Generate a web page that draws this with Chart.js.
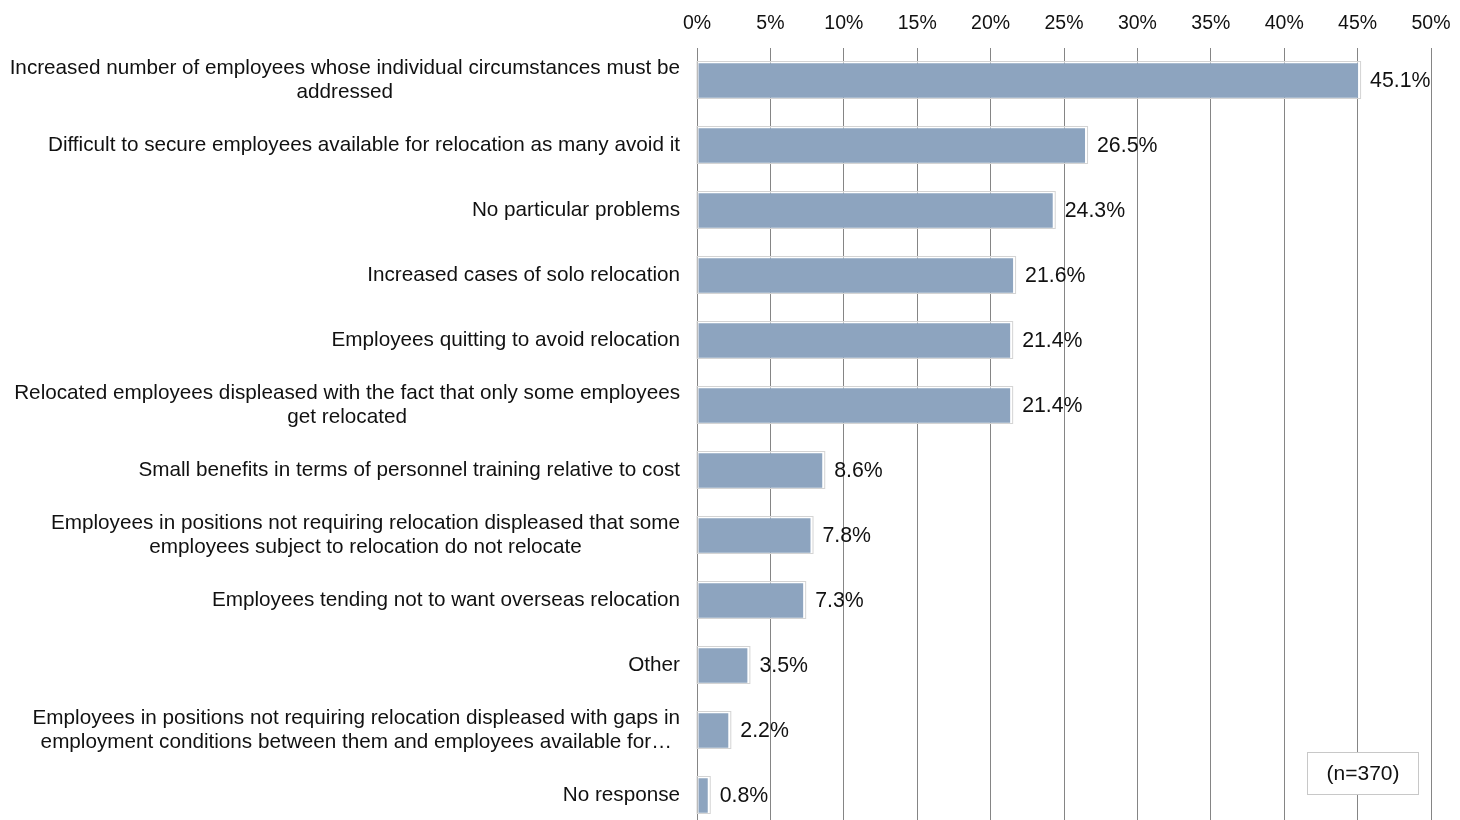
<!DOCTYPE html>
<html>
<head>
<meta charset="utf-8">
<script src="https://cdn.jsdelivr.net/npm/chart.js@4/dist/chart.umd.min.js"></script>
<style>
  html, body { margin: 0; padding: 0; background: #fff; overflow: hidden; }
  #wrap { width: 1460px; height: 828px; }
</style>
</head>
<body>
<div id="wrap"><canvas id="chartCanvas" width="1460" height="828"></canvas></div>
<script>
const categories = [
  ['Increased number of employees whose individual circumstances must be', 'addressed'],
  'Difficult to secure employees available for relocation as many avoid it',
  'No particular problems',
  'Increased cases of solo relocation',
  'Employees quitting to avoid relocation',
  ['Relocated employees displeased with the fact that only some employees', 'get relocated'],
  'Small benefits in terms of personnel training relative to cost',
  ['Employees in positions not requiring relocation displeased that some', 'employees subject to relocation do not relocate'],
  'Employees tending not to want overseas relocation',
  'Other',
  ['Employees in positions not requiring relocation displeased with gaps in', 'employment conditions between them and employees available for\u2026'],
  'No response'
];
const shares = [45.1, 26.5, 24.3, 21.6, 21.4, 21.4, 8.6, 7.8, 7.3, 3.5, 2.2, 0.8];
const sampleNote = '(n=370)';

const FONT = '"Liberation Sans", Arial, sans-serif';
const TEXT = '#111111';

// category labels: right-aligned block, lines centred within it
const categoryLabels = {
  id: 'categoryLabels',
  afterDraw(chart) {
    const { ctx, scales: { y } } = chart;
    ctx.save();
    ctx.font = '20.7px ' + FONT;
    ctx.fillStyle = TEXT;
    ctx.textAlign = 'center';
    ctx.textBaseline = 'middle';
    const right = 680, lh = 23.5;
    categories.forEach((c, i) => {
      const lines = Array.isArray(c) ? c : [c];
      const w = Math.max(...lines.map(l => ctx.measureText(l).width));
      const cx = right - w / 2;
      const cy = y.getPixelForValue(i);
      lines.forEach((l, j) => {
        ctx.fillText(l, cx, cy + (j - (lines.length - 1) / 2) * lh);
      });
    });
    ctx.restore();
  }
};

// value labels at the end of each bar, plus bar outline
const valueLabels = {
  id: 'valueLabels',
  afterDatasetsDraw(chart) {
    const { ctx } = chart;
    const meta = chart.getDatasetMeta(0);
    ctx.save();
    meta.data.forEach((bar, i) => {
      const top = bar.y - bar.height / 2;
      ctx.strokeStyle = '#d4d4d4';
      ctx.lineWidth = 1;
      ctx.strokeRect(bar.base - 0.5, Math.round(top) - 0.5, bar.x - bar.base + 2, Math.round(bar.height) + 1);
      ctx.font = '21.3px ' + FONT;
      ctx.fillStyle = TEXT;
      ctx.textAlign = 'left';
      ctx.textBaseline = 'middle';
      ctx.fillText(shares[i].toFixed(1) + '%', bar.x + 11, bar.y + 1);
    });
    ctx.restore();
  }
};

// (n=370) box
const noteBox = {
  id: 'noteBox',
  afterDraw(chart) {
    const { ctx } = chart;
    ctx.save();
    ctx.fillStyle = '#fff';
    ctx.fillRect(1307, 752, 111, 42);
    ctx.strokeStyle = '#c8c8c8';
    ctx.lineWidth = 1;
    ctx.strokeRect(1307.5, 752.5, 111, 42);
    ctx.font = '21px ' + FONT;
    ctx.fillStyle = TEXT;
    ctx.textAlign = 'center';
    ctx.textBaseline = 'middle';
    ctx.fillText(sampleNote, 1363, 774);
    ctx.restore();
  }
};

new Chart(document.getElementById('chartCanvas'), {
  type: 'bar',
  data: {
    labels: categories,
    datasets: [{
      data: shares,
      backgroundColor: '#8da4bf',
      borderColor: '#ffffff',
      borderWidth: 1,
      borderSkipped: false,
      categoryPercentage: 1,
      barPercentage: 0.56
    }]
  },
  options: {
    indexAxis: 'y',
    responsive: false,
    animation: false,
    layout: { padding: { left: 0, right: 29, top: 0, bottom: 0 } },
    plugins: {
      legend: { display: false },
      tooltip: { enabled: false }
    },
    scales: {
      x: {
        position: 'top',
        min: 0,
        max: 50,
        afterFit(scale) {
          scale.height = 48;
          scale.paddingLeft = 0;
          scale.paddingRight = 0;
        },
        ticks: {
          stepSize: 5,
          padding: 13,
          color: TEXT,
          font: { family: FONT, size: 19.5 },
          callback: v => v + '%'
        },
        grid: { color: '#858585', lineWidth: 1, drawTicks: false },
        border: { display: false }
      },
      y: {
        afterFit(scale) { scale.width = 697; },
        ticks: { display: false },
        grid: { display: false },
        border: { display: false }
      }
    }
  },
  plugins: [categoryLabels, valueLabels, noteBox]
});
</script>
</body>
</html>
